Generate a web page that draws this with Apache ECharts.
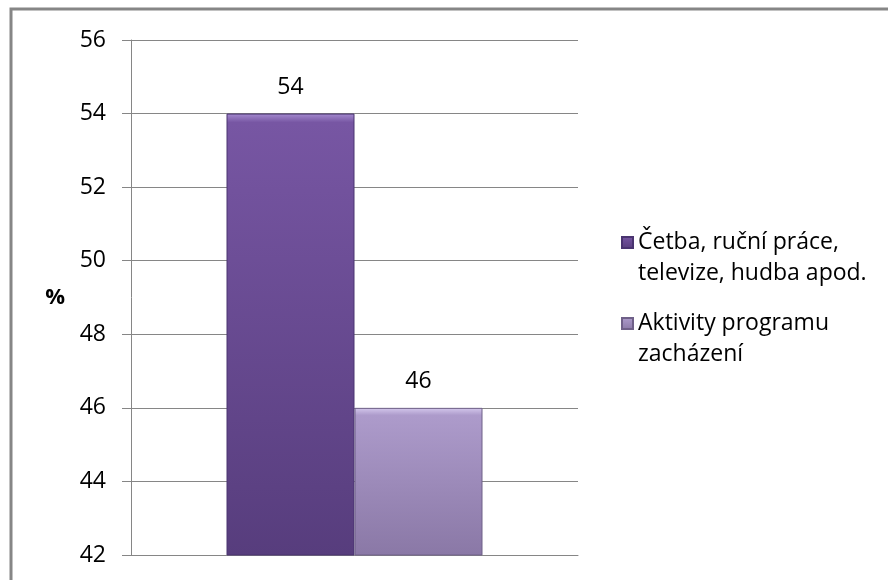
<!DOCTYPE html>
<html lang="cs">
<head>
<meta charset="UTF-8">
<script src="https://cdn.jsdelivr.net/npm/echarts@6/dist/echarts.min.js"></script>
<style>
  html, body { margin: 0; padding: 0; background: #fff; }
  #main { width: 888px; height: 580px; }
</style>
</head>
<body>
<div id="main"></div>
<script>
// data
var categories = [''];
var seriesNames = ['Četba, ruční práce,\ntelevize, hudba apod.', 'Aktivity programu\nzacházení'];
var cetba = [54];
var aktivity = [46];
var yTicks = [42, 44, 46, 48, 50, 52, 54, 56];

var font = '"Open Sans", "DejaVu Sans", sans-serif';

// vertical gradient with a thin bevel highlight at the top
function grad(hi, top, bottom, edge) {
  return new echarts.graphic.LinearGradient(0, 0, 0, 1, [
    { offset: 0, color: hi },
    { offset: edge, color: top },
    { offset: 1, color: bottom }
  ]);
}

var myChart = echarts.init(document.getElementById('main'));
var option = {
  animation: false,
  backgroundColor: '#fff',
  textStyle: { fontFamily: font },
  graphic: [{
    type: 'rect',
    shape: { x: 11, y: 9, width: 900, height: 600 },
    style: { fill: 'none', stroke: '#868686', lineWidth: 3 },
    silent: true
  }],
  grid: { left: 131, right: 310, top: 40, bottom: 25 },
  legend: {
    orient: 'vertical',
    left: 621,
    top: 196,
    padding: 0,
    icon: 'rect',
    itemWidth: 11,
    itemHeight: 11,
    itemGap: -12,
    // empty first line so the marker sits beside the first text line
    formatter: function (name) { return '\n' + name; },
    textStyle: { fontSize: 23, color: '#000', lineHeight: 31, fontFamily: font },
    data: seriesNames
  },
  xAxis: {
    type: 'category',
    data: categories,
    axisLine: { show: true, lineStyle: { color: '#868686' } },
    axisTick: { show: false },
    axisLabel: { show: false }
  },
  yAxis: {
    type: 'value',
    min: yTicks[0],
    max: yTicks[yTicks.length - 1],
    interval: 2,
    name: '%',
    nameLocation: 'middle',
    nameRotate: 0,
    nameGap: 66,
    nameTextStyle: { fontSize: 22, fontWeight: 'bold', color: '#000', fontFamily: font },
    axisLine: { show: true, lineStyle: { color: '#868686' } },
    axisTick: { show: true, length: 9, lineStyle: { color: '#868686' } },
    axisLabel: { fontSize: 23, color: '#000', margin: 25 },
    splitLine: { lineStyle: { color: '#868686' } }
  },
  series: [{
    name: seriesNames[0],
    type: 'bar',
    data: cetba,
    barWidth: 128,
    barGap: '0%',
    itemStyle: { color: grad('#a58bd0', '#7756a3', '#573d7d', 0.02), borderColor: '#4a3470', borderWidth: 1 },
    label: { show: true, position: 'top', distance: 15, fontSize: 23, color: '#000' }
  }, {
    name: seriesNames[1],
    type: 'bar',
    data: aktivity,
    barWidth: 128,
    itemStyle: { color: grad('#d4c8ec', '#ad9bcb', '#8a78a6', 0.05), borderColor: '#6f6088', borderWidth: 1 },
    label: { show: true, position: 'top', distance: 15, fontSize: 23, color: '#000' }
  }]
};
myChart.setOption(option);
</script>
</body>
</html>
